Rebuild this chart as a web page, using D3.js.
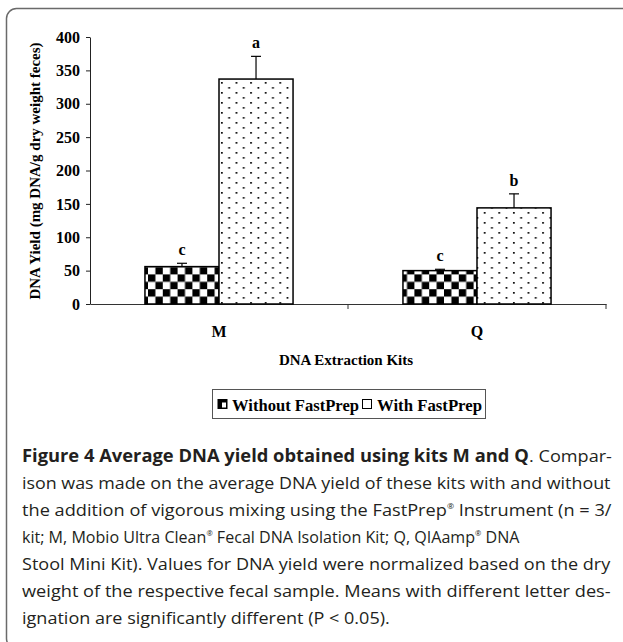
<!DOCTYPE html>
<html>
<head>
<meta charset="utf-8">
<script src="https://cdn.jsdelivr.net/npm/d3@7"></script>
<style>
  body { margin: 0; background: #fff; }
  svg { display: block; }
</style>
</head>
<body>
<svg id="fig" width="623" height="642"></svg>
<script>
// data
var kits = ['M', 'Q'];
var series = ['Without FastPrep', 'With FastPrep'];
var withoutMeans = [56, 50];
var withoutErr = [5, 2];
var withMeans = [337, 144];
var withErr = [34, 21];
var withoutLetters = ['c', 'c'];
var withLetters = ['a', 'b'];
var yTicks = [0, 50, 100, 150, 200, 250, 300, 350, 400];

var captionLines = [
  'ison was made on the average DNA yield of these kits with and without',
  ['the addition of vigorous mixing using the FastPrep', '®', ' Instrument (n = 3/'],
  ['kit; M, Mobio Ultra Clean', '®', ' Fecal DNA Isolation Kit; Q, QIAamp', '®', ' DNA'],
  'Stool Mini Kit). Values for DNA yield were normalized based on the dry',
  'weight of the respective fecal sample. Means with different letter des-',
  'ignation are significantly different (P < 0.05).'
];
var captionEnds = [611, 612, 520, 611, 611, 390];

var svg = d3.select('#fig'),
    serif = '"Liberation Serif", "Times New Roman", serif',
    sans = '"Open Sans", "Noto Sans", sans-serif';

// frame with rounded corner
svg.append('rect')
    .attr('x', 6.5).attr('y', 8.5)
    .attr('width', 626).attr('height', 640)
    .attr('rx', 10)
    .attr('fill', 'none')
    .attr('stroke', '#6a6a6a')
    .attr('stroke-width', 1.5);

var defs = svg.append('defs');

var checker = defs.append('pattern')
    .attr('id', 'checker')
    .attr('patternUnits', 'userSpaceOnUse')
    .attr('x', 0).attr('y', 304)
    .attr('width', 14.8).attr('height', 14.8);
checker.append('rect').attr('width', 14.8).attr('height', 14.8).attr('fill', '#fff');
checker.append('rect').attr('width', 7.4).attr('height', 7.4).attr('fill', '#000');
checker.append('rect').attr('x', 7.4).attr('y', 7.4).attr('width', 7.4).attr('height', 7.4).attr('fill', '#000');

var dots = defs.append('pattern')
    .attr('id', 'dots')
    .attr('patternUnits', 'userSpaceOnUse')
    .attr('x', 0).attr('y', 0)
    .attr('width', 14.6).attr('height', 10);
dots.append('rect').attr('width', 14.6).attr('height', 10).attr('fill', '#fff');
dots.append('rect').attr('x', 2).attr('y', 2).attr('width', 1.7).attr('height', 1.7).attr('fill', '#000');
dots.append('rect').attr('x', 9.3).attr('y', 7).attr('width', 1.7).attr('height', 1.7).attr('fill', '#000');

var y = d3.scaleLinear().domain([0, 400]).range([304, 37]);
var x0 = d3.scaleBand().domain(kits).range([90, 606]);
var groupWidth = x0.bandwidth() * 0.574;
var x1 = d3.scaleBand().domain(series)
    .range([(x0.bandwidth() - groupWidth) / 2, (x0.bandwidth() + groupWidth) / 2]);

var rows = [];
kits.forEach(function(k, i) {
  rows.push({ kit: k, s: series[0], mean: withoutMeans[i], err: withoutErr[i], letter: withoutLetters[i], fill: 'url(#checker)' });
  rows.push({ kit: k, s: series[1], mean: withMeans[i], err: withErr[i], letter: withLetters[i], fill: 'url(#dots)' });
});

// y axis
var yAxis = svg.append('g')
    .attr('transform', 'translate(90,0)')
    .call(d3.axisLeft(y).tickValues(yTicks).tickSize(4).tickSizeOuter(0).tickPadding(6));
yAxis.attr('font-family', serif).attr('font-size', 16).attr('font-weight', 'bold');
yAxis.selectAll('path, line').attr('stroke', '#222');
yAxis.selectAll('text').attr('fill', '#000');

// x axis: labels at band centres, ticks at band edges
var xAxis = svg.append('g')
    .attr('transform', 'translate(0,304)')
    .call(d3.axisBottom(x0).tickSize(0).tickSizeOuter(0).tickPadding(22));
xAxis.attr('font-family', serif).attr('font-size', 16).attr('font-weight', 'bold');
xAxis.select('.domain').attr('stroke', '#333');
xAxis.selectAll('text').attr('fill', '#000');
xAxis.selectAll('.edge')
    .data(kits.slice(1).map(function(k) { return x0(k); }).concat([x0.range()[1]]))
  .enter().append('line')
    .attr('x1', function(d) { return d; })
    .attr('x2', function(d) { return d; })
    .attr('y1', 0).attr('y2', 5)
    .attr('stroke', '#333');

// bars
var bars = svg.append('g');
bars.selectAll('rect')
    .data(rows)
  .enter().append('rect')
    .attr('x', function(d) { return x0(d.kit) + x1(d.s); })
    .attr('y', function(d) { return y(d.mean); })
    .attr('width', x1.bandwidth())
    .attr('height', function(d) { return y(0) - y(d.mean); })
    .attr('fill', function(d) { return d.fill; })
    .attr('stroke', '#000')
    .attr('stroke-width', 1.5);

// error bars (upper only)
var errs = svg.append('g').attr('stroke', '#000').attr('stroke-width', 1.2);
rows.forEach(function(d) {
  var cx = x0(d.kit) + x1(d.s) + x1.bandwidth() / 2;
  errs.append('line')
      .attr('x1', cx).attr('x2', cx)
      .attr('y1', y(d.mean)).attr('y2', y(d.mean + d.err));
  errs.append('line')
      .attr('x1', cx - 5).attr('x2', cx + 5)
      .attr('y1', y(d.mean + d.err)).attr('y2', y(d.mean + d.err));
});

// significance letters
svg.append('g').selectAll('text')
    .data(rows)
  .enter().append('text')
    .attr('x', function(d) { return x0(d.kit) + x1(d.s) + x1.bandwidth() / 2; })
    .attr('y', function(d) { return y(d.mean + d.err) - 8; })
    .attr('text-anchor', 'middle')
    .attr('font-family', serif).attr('font-size', 16).attr('font-weight', 'bold')
    .text(function(d) { return d.letter; });

// axis titles
svg.append('text')
    .attr('transform', 'translate(40,171) rotate(-90)')
    .attr('text-anchor', 'middle')
    .attr('font-family', serif).attr('font-size', 15).attr('font-weight', 'bold')
    .text('DNA Yield (mg DNA/g dry weight feces)');

svg.append('text')
    .attr('x', 346).attr('y', 365)
    .attr('text-anchor', 'middle')
    .attr('font-family', serif).attr('font-size', 15).attr('font-weight', 'bold')
    .text('DNA Extraction Kits');

// legend
var legend = svg.append('g');
legend.append('rect')
    .attr('x', 212.5).attr('y', 389.5)
    .attr('width', 273).attr('height', 29)
    .attr('fill', '#fff').attr('stroke', '#555');
var legendX = [218, 362], legendTextX = [232, 377];
series.forEach(function(s, i) {
  if (i === 0) {
    legend.append('rect').attr('x', legendX[i]).attr('y', 399.5).attr('width', 9).attr('height', 9)
        .attr('fill', '#000').attr('stroke', '#000');
    legend.append('rect').attr('x', legendX[i] + 4).attr('y', 402.5).attr('width', 4).attr('height', 5)
        .attr('fill', '#fff');
  } else {
    legend.append('rect').attr('x', legendX[i] + 0.5).attr('y', 399.5).attr('width', 9).attr('height', 9)
        .attr('fill', '#fff').attr('stroke', '#000');
  }
  legend.append('text')
      .attr('x', legendTextX[i]).attr('y', 411)
      .attr('font-family', serif).attr('font-size', 16).attr('font-weight', 'bold')
      .attr('textLength', i === 0 ? 127 : 105).attr('lengthAdjust', 'spacingAndGlyphs')
      .text(s);
});

// caption: each line squeezed horizontally to the width it has in the figure
var cap = svg.append('g').attr('font-family', sans).attr('font-size', 17).attr('fill', '#231f20');
function fitLine(t, x0px, x1px, baseline) {
  var w = t.node().getComputedTextLength();
  t.attr('transform', 'translate(' + x0px + ',' + baseline + ') scale(' + ((x1px - x0px) / w) + ',1)');
}

var head = cap.append('text').attr('font-weight', 'bold')
    .text('Figure 4 Average DNA yield obtained using kits M and Q');
fitLine(head, 22, 529, 462);
var headTail = cap.append('text').text('. Compar-');
fitLine(headTail, 529, 612, 462);

captionLines.forEach(function(line, i) {
  var t = cap.append('text');
  if (typeof line === 'string') {
    t.text(line);
  } else {
    line.forEach(function(part) {
      var sp = t.append('tspan').text(part);
      if (part === '®') sp.attr('font-size', 8).attr('baseline-shift', '90%');
    });
  }
  fitLine(t, 22, captionEnds[i], 489 + i * 27);
});
</script>
</body>
</html>
